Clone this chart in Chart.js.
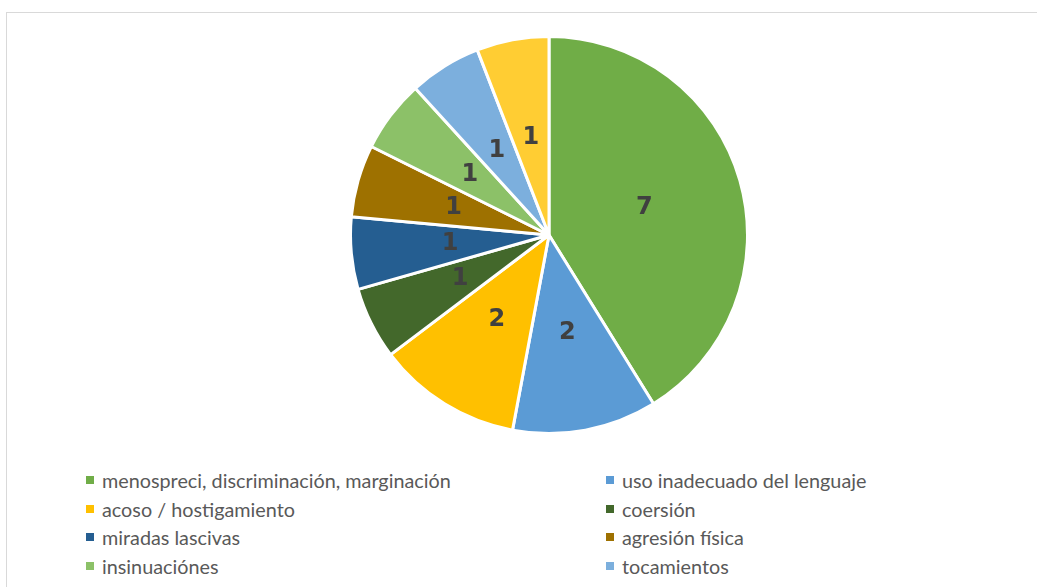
<!DOCTYPE html>
<html>
<head>
<meta charset="utf-8">
<script src="https://cdn.jsdelivr.net/npm/chart.js@4/dist/chart.umd.min.js"></script>
<style>
    html, body { margin: 0; padding: 0; background: #fff; overflow: hidden; }
    body { width: 1037px; height: 587px; position: relative; }
    .marco { position: absolute; left: 6px; top: 12px; width: 1060px; height: 640px; border: 1px solid #d9d9d9; }
    .grafico-container { position: absolute; left: 349px; top: 35px; width: 400px; height: 400px; }
    #leyenda { position: absolute; left: 0; top: 0; font-family: Lato, "Open Sans", sans-serif; font-size: 19.8px; color: #595959; }
    .item { position: absolute; white-space: nowrap; line-height: 20px; }
    .item span.cuadro { position: absolute; width: 8px; height: 8px; left: 0; top: 6px; }
    .item span.texto { position: absolute; left: 16px; top: 0; }
</style>
</head>
<body>
<div class="marco"></div>
<div class="grafico-container"><canvas id="graficoPie"></canvas></div>
<div id="leyenda"></div>
<script>
const categorias = [
    "menospreci, discriminación, marginación",
    "uso inadecuado del lenguaje",
    "acoso / hostigamiento",
    "coersión",
    "miradas lascivas",
    "agresión física",
    "insinuaciónes",
    "tocamientos",
    "otros"
];
const valores = [7, 2, 2, 1, 1, 1, 1, 1, 1];
const colores = [
    "#70ad47", "#5b9bd5", "#ffc000", "#43682b", "#255e91",
    "#9e7100", "#8cc168", "#7cafdd", "#ffcd33"
];

// etiquetas con el valor en el centro de cada porción
const etiquetasPlugin = {
    id: "etiquetas",
    afterDatasetsDraw(chart) {
        const ctx = chart.ctx;
        const meta = chart.getDatasetMeta(0);
        ctx.save();
        ctx.font = "bold 24px 'DejaVu Sans', sans-serif";
        ctx.fillStyle = "#404040";
        ctx.textAlign = "center";
        ctx.textBaseline = "middle";
        meta.data.forEach((arco, i) => {
            const pos = arco.tooltipPosition();
            ctx.fillText(String(valores[i]), pos.x, pos.y);
        });
        ctx.restore();
    }
};

const canvas = document.getElementById("graficoPie");
new Chart(canvas, {
    type: "pie",
    data: {
        labels: categorias,
        datasets: [{
            data: valores,
            backgroundColor: colores,
            borderColor: "#ffffff",
            borderWidth: 3,
            hoverOffset: 0
        }]
    },
    options: {
        responsive: true,
        maintainAspectRatio: false,
        animation: false,
        layout: { padding: 0 },
        plugins: {
            legend: { display: false },
            tooltip: { enabled: false }
        }
    },
    plugins: [etiquetasPlugin]
});

// leyenda en dos columnas
const leyenda = document.getElementById("leyenda");
categorias.forEach((nombre, i) => {
    const col = i % 2;
    const fila = Math.floor(i / 2);
    const item = document.createElement("div");
    item.className = "item";
    item.style.left = (col === 0 ? 86 : 606) + "px";
    item.style.top = (470 + fila * 28.5) + "px";
    item.innerHTML = `<span class="cuadro" style="background:${colores[i]}"></span><span class="texto">${nombre}</span>`;
    leyenda.appendChild(item);
});
</script>
</body>
</html>
